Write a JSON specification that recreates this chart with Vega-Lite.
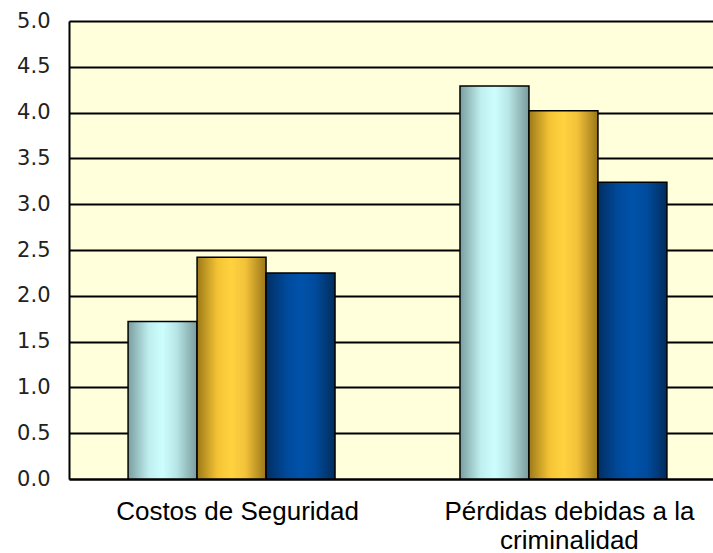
{
  "$schema": "https://vega.github.io/schema/vega-lite/v6.json",
  "autosize": "none",
  "padding": {"left": 69, "top": 21, "right": 0, "bottom": 74},
  "width": 644,
  "height": 458,
  "background": "#FFFFFF",
  "data": {
    "values": [
      {"categoria": "Costos de Seguridad", "serie": "A", "valor": 1.72},
      {"categoria": "Costos de Seguridad", "serie": "B", "valor": 2.42},
      {"categoria": "Costos de Seguridad", "serie": "C", "valor": 2.25},
      {"categoria": "Pérdidas debidas a la criminalidad", "serie": "A", "valor": 4.29},
      {"categoria": "Pérdidas debidas a la criminalidad", "serie": "B", "valor": 4.02},
      {"categoria": "Pérdidas debidas a la criminalidad", "serie": "C", "valor": 3.24}
    ]
  },
  "encoding": {
    "x": {
      "field": "categoria",
      "type": "nominal",
      "sort": null,
      "scale": {"range": [0, 657], "paddingInner": 0.3765, "paddingOuter": 0.178},
      "axis": {
        "title": null,
        "labelAngle": 0,
        "ticks": false,
        "labelFont": "Liberation Sans",
        "labelFontSize": 26,
        "labelColor": "#000000",
        "labelPadding": 19,
        "labelLineHeight": 29,
        "labelLimit": 400,
        "labelOffset": 6,
        "domainColor": "#000000",
        "domainWidth": 2,
        "labelExpr": "datum.label == 'Pérdidas debidas a la criminalidad' ? ['Pérdidas debidas a la', 'criminalidad'] : datum.label"
      }
    },
    "xOffset": {"field": "serie", "type": "nominal", "scale": {"domain": ["A", "B", "C"], "paddingInner": 0, "paddingOuter": 0}},
    "y": {
      "field": "valor",
      "type": "quantitative",
      "scale": {"domain": [0, 5], "nice": false},
      "axis": {
        "title": null,
        "values": [0, 0.5, 1, 1.5, 2, 2.5, 3, 3.5, 4, 4.5, 5],
        "format": ".1f",
        "ticks": false,
        "labelPadding": 19,
        "labelFont": "DejaVu Sans",
        "labelFontSize": 21,
        "labelColor": "#222222",
        "domainColor": "#000000",
        "domainWidth": 2,
        "grid": true,
        "gridColor": "#000000",
        "gridWidth": 2,
        "gridOpacity": 1
      }
    }
  },
  "layer": [
    {
      "transform": [{"filter": "datum.serie == 'A'"}],
      "mark": {
        "type": "bar",
        "stroke": "#000000",
        "strokeWidth": 1.5,
        "color": {
          "gradient": "linear", "x1": 0, "x2": 1, "y1": 0, "y2": 0,
          "stops": [
            {"offset": 0, "color": "#7a9ea0"},
            {"offset": 0.3, "color": "#bfeeee"},
            {"offset": 0.5, "color": "#cdfefe"},
            {"offset": 0.7, "color": "#b8e6e6"},
            {"offset": 1, "color": "#7a9a9c"}
          ]
        }
      }
    },
    {
      "transform": [{"filter": "datum.serie == 'B'"}],
      "mark": {
        "type": "bar",
        "stroke": "#000000",
        "strokeWidth": 1.5,
        "color": {
          "gradient": "linear", "x1": 0, "x2": 1, "y1": 0, "y2": 0,
          "stops": [
            {"offset": 0, "color": "#9c7a18"},
            {"offset": 0.3, "color": "#f5c435"},
            {"offset": 0.5, "color": "#ffd23f"},
            {"offset": 0.7, "color": "#f2c23a"},
            {"offset": 1, "color": "#9a7618"}
          ]
        }
      }
    },
    {
      "transform": [{"filter": "datum.serie == 'C'"}],
      "mark": {
        "type": "bar",
        "stroke": "#000000",
        "strokeWidth": 1.5,
        "color": {
          "gradient": "linear", "x1": 0, "x2": 1, "y1": 0, "y2": 0,
          "stops": [
            {"offset": 0, "color": "#002f62"},
            {"offset": 0.3, "color": "#004a9c"},
            {"offset": 0.5, "color": "#0052aa"},
            {"offset": 0.7, "color": "#004c9e"},
            {"offset": 1, "color": "#002d5c"}
          ]
        }
      }
    }
  ],
  "config": {
    "view": {"fill": "#FFFFDC", "stroke": null}
  }
}
